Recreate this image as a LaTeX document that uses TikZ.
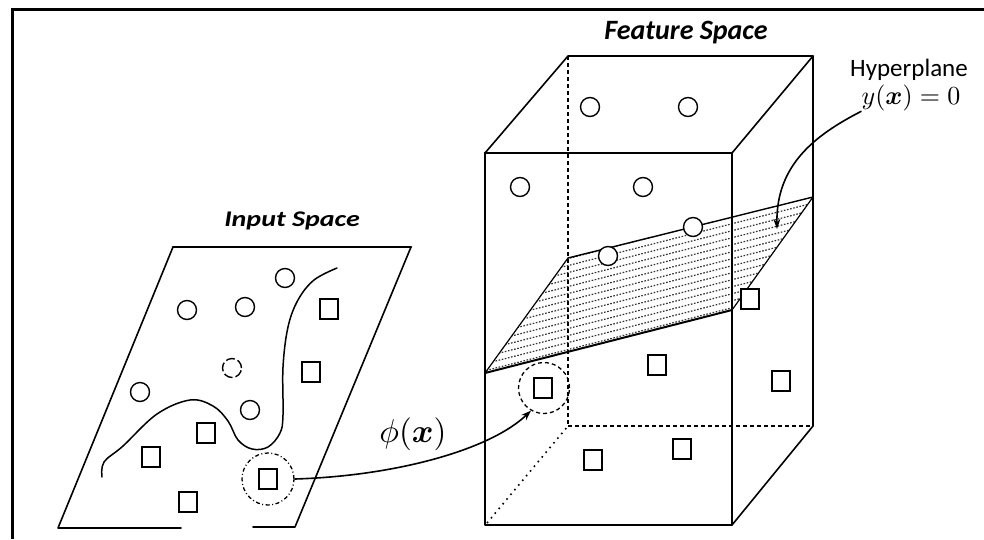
\documentclass[tikz,border=0pt]{standalone}
\usepackage{amsmath}
\usepackage{fontspec}
\newfontfamily\calibri{Carlito}
\usetikzlibrary{arrows.meta}

\begin{document}
\begin{tikzpicture}[x=1pt,y=-1pt,
  outline/.style={line width=1.6pt, line cap=round, line join=round},
  thickline/.style={line width=2.6pt, line cap=round, line join=round},
  hiddenline/.style={line width=1.5pt, dash pattern=on 4pt off 3pt},
  dottedline/.style={line width=1.6pt, dash pattern=on 1.6pt off 4.5pt},
  hatchline/.style={line width=1.2pt, dash pattern=on 1.6pt off 1.6pt, black!80},
  ptcirc/.style={circle, draw, line width=1.4pt, fill=white, minimum size=19pt, inner sep=0pt},
  ptsq/.style={rectangle, draw, line width=1.4pt, fill=white, minimum width=18pt, minimum height=20pt, inner sep=0pt},
  selring/.style={circle, draw, line width=1.3pt, minimum size=46pt, inner sep=0pt},
  maparrow/.style={line width=1.6pt, -{Stealth[length=10pt,width=7pt]}},
  titletext/.style={font=\calibri\bfseries\itshape\fontsize{28}{32}\selectfont},
]
\useasboundingbox (0,0) rectangle (984,539);

% frame
\draw[line width=3pt] (12,539) -- (12,9) -- (984,9);

% ---------------- input space ----------------
\node[titletext, yscale=0.8] (intitle) at (292,221) {Input Space};
\draw[outline] (181,528) -- (58,528) -- (173,247);
\draw[thickline] (173,247) -- (411,247);
\draw[outline] (411,247) -- (295,527) -- (253,527);

% decision boundary
\draw[line width=1.5pt, line cap=round]
  plot[smooth, tension=0.6] coordinates {(102,477) (104,462) (123,446) (157,414) (190,400) (213,406) (228,421) (238,440) (252,449) (268,447) (280,433) (283,415) (283,367) (288,327) (298,300) (314,280) (337,268)};

\node[ptcirc] (ic1) at (285,278) {};
\node[ptcirc] (ic2) at (187,310) {};
\node[ptcirc] (ic3) at (245,307) {};
\node[ptcirc, dash pattern=on 9pt off 3pt] (ic4) at (232,368) {};
\node[ptcirc] (ic5) at (140,392) {};
\node[ptcirc] (ic6) at (250,410) {};

\node[ptsq] (is1) at (329,309) {};
\node[ptsq] (is2) at (311,372) {};
\node[ptsq] (is3) at (206,433) {};
\node[ptsq] (is4) at (151,457) {};
\node[ptsq] (is5) at (268,479) {};
\node[ptsq] (is6) at (188,502) {};
\node[selring, minimum width=45pt, minimum height=52pt, dash pattern=on 4pt off 2.5pt on 1pt off 2.5pt] (insel) at (268,479) {};

% ---------------- feature space ----------------
\node[titletext] (fstitle) at (686,33) {Feature Space};

% hidden edges
\draw[hiddenline] (568,56) -- (568,426);
\draw[hiddenline] (568,426) -- (813,426);
\draw[dottedline] (487,523) -- (568,426);

% hyperplane hatching
\begin{scope}
  \clip (485,373) -- (568,258) -- (813,197) -- (732,310) -- cycle;
  \foreach \k in {0,...,18}
    \draw[hatchline] (480,{372-7*\k}) -- ++(340,-86.7);
\end{scope}
\draw[outline, line width=1.2pt] (485,373) -- (568,258);
\draw[outline, line width=1.4pt] (568,258) -- (813,197);
\draw[outline, line width=1.2pt] (813,197) -- (732,310);
\draw[outline, line width=2pt] (485,373) -- (732,310);

% box edges
\draw[outline] (485,153) -- (568,56) -- (813,56) -- (732,153);
\draw[outline] (813,56) -- (813,426) -- (732,525);
\draw[thickline] (485,153) -- (732,153);
\draw[thickline] (485,153) -- (485,525) -- (732,525) -- (732,153);

% points
\node[ptcirc] (fc1) at (590,107) {};
\node[ptcirc] (fc2) at (688,107) {};
\node[ptcirc] (fc3) at (520,187) {};
\node[ptcirc] (fc4) at (643,187) {};
\node[ptcirc] (fc5) at (693,227) {};
\node[ptcirc] (fc6) at (608,256) {};

\node[ptsq] (fs1) at (750,299) {};
\node[ptsq] (fs2) at (657,365) {};
\node[ptsq] (fs3) at (781,381) {};
\node[ptsq] (fs4) at (543,388) {};
\node[ptsq] (fs5) at (682,449) {};
\node[ptsq] (fs6) at (593,460) {};
\node[selring, minimum width=45pt, minimum height=51pt, dash pattern=on 4pt off 3pt] (fssel) at (544,388) {};

% mapping arrow
\node[inner sep=0pt] (phi) at (413,434) {\scalebox{3.3}{$\phi(\boldsymbol{x})$}};
\draw[maparrow] (insel.east) .. controls (395,476) and (490,450) .. (fssel.240);

% hyperplane label
\node[font=\calibri\fontsize{25}{30}\selectfont, inner sep=0pt] (hplabel) at (909,70) {Hyperplane};
\node[inner sep=0pt] (hpmath) at (911,98) {\scalebox{2.6}{$y(\boldsymbol{x})=0$}};
\coordinate (hptip) at (777,229);
\draw[maparrow] (hpmath.south west) .. controls (815,135) and (776,165) .. (hptip);
\end{tikzpicture}
\end{document}
